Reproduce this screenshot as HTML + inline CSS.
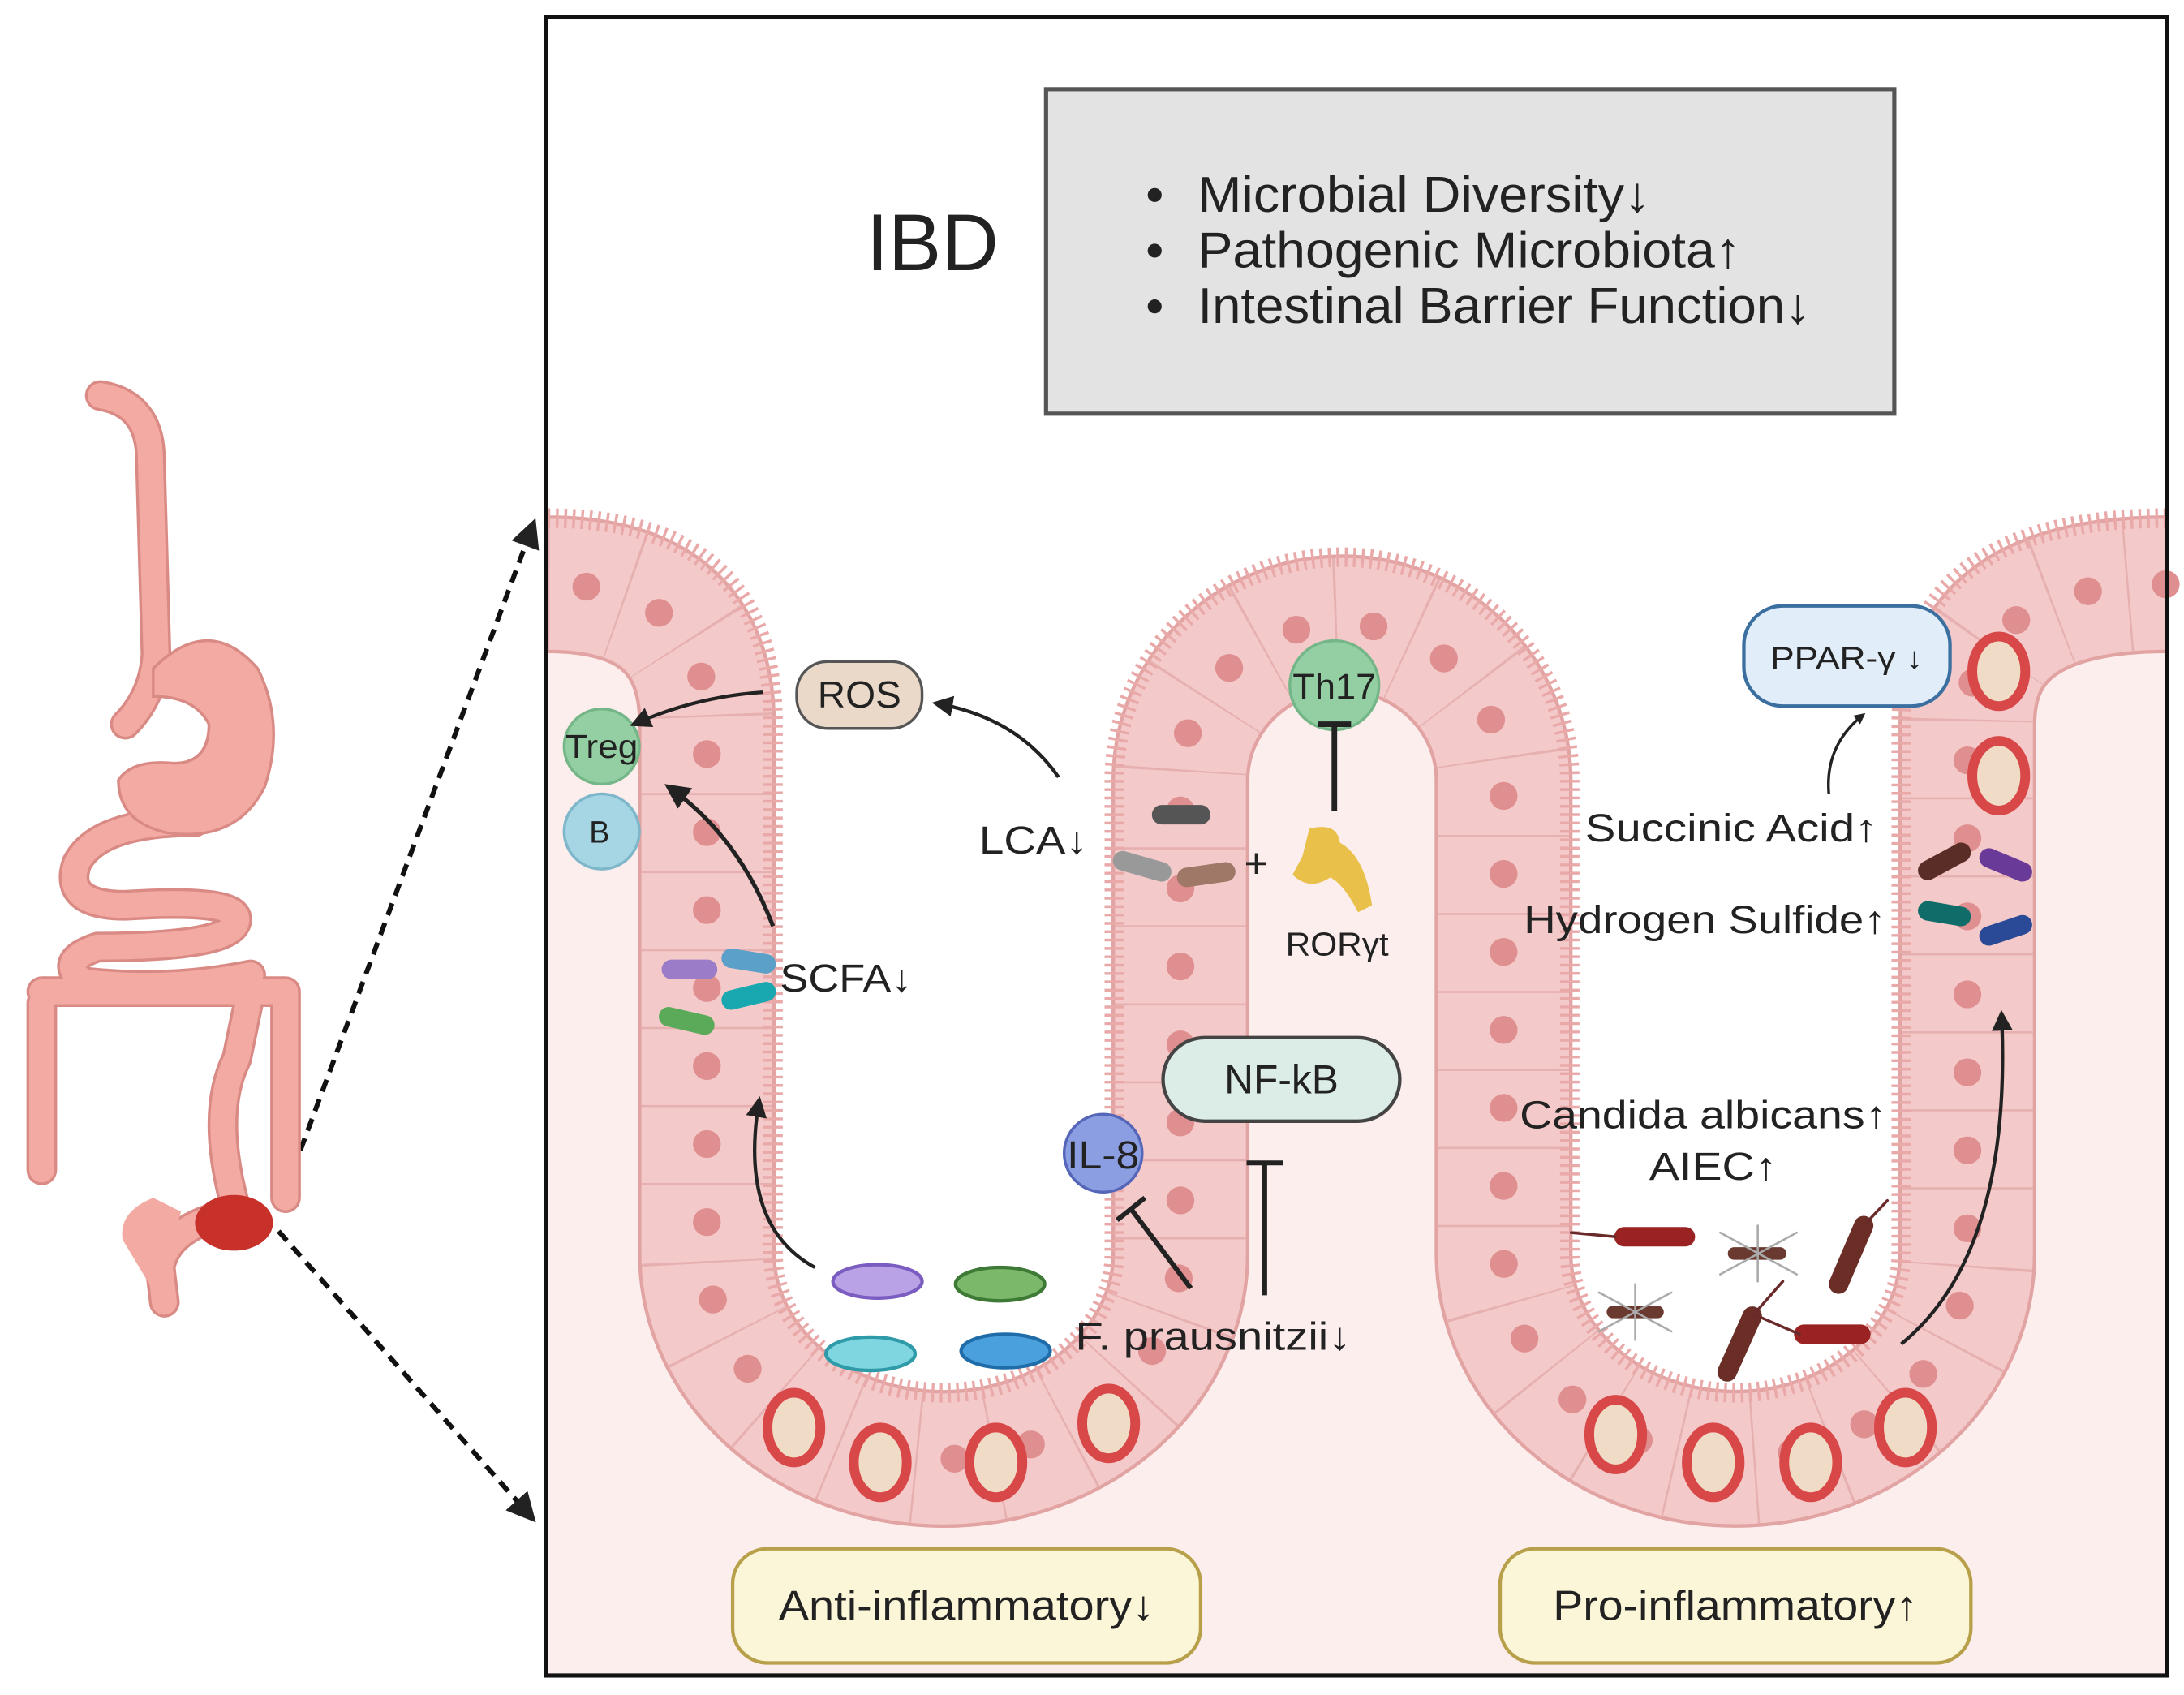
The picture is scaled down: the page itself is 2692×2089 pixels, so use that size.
<!DOCTYPE html>
<html><head><meta charset="utf-8"><style>
html,body{margin:0;padding:0;background:#fff}
svg{display:block}
text{font-family:"Liberation Sans",sans-serif;fill:#222}
</style></head><body>
<svg width="2692" height="2089" viewBox="0 0 1568 1217" preserveAspectRatio="none" xmlns="http://www.w3.org/2000/svg">
<defs>
<marker id="ah" viewBox="0 0 10 10" refX="8" refY="5" markerWidth="6" markerHeight="6" orient="auto"><path d="M0,0 L10,5 L0,10 Z" fill="#222"/></marker>
<marker id="ah2" viewBox="0 0 10 10" refX="8" refY="5" markerWidth="4" markerHeight="4" orient="auto"><path d="M0,0 L10,5 L0,10 Z" fill="#222"/></marker>
</defs>
<rect width="1568" height="1217" fill="#fff"/>
<rect x="393" y="365" width="1162" height="837" fill="#fdeeee"/>
<path d="M393 372 Q555 372 555 520 L555 900 A122.5 100 0 0 0 800 900 L800 560 A163.5 160 0 0 1 1127 560 L1127 900 A119 100 0 0 0 1365 900 L1365 520 Q1365 372 1556 372 L1556 12 L393 12 Z" fill="#fff"/>
<g fill="none">
<path d="M393 419.5 Q507.5 419.5 507.5 520 L507.5 900 A170 147.5 0 0 0 847.5 900 L847.5 560 A116 112.5 0 0 1 1079.5 560 L1079.5 900 A166.5 147.5 0 0 0 1412.5 900 L1412.5 520 Q1412.5 419.5 1556 419.5" stroke="#e2a3a3" stroke-width="99"/>
<path d="M393 419.5 Q507.5 419.5 507.5 520 L507.5 900 A170 147.5 0 0 0 847.5 900 L847.5 560 A116 112.5 0 0 1 1079.5 560 L1079.5 900 A166.5 147.5 0 0 0 1412.5 900 L1412.5 520 Q1412.5 419.5 1556 419.5" stroke="#f4c9c9" stroke-width="94"/>
<path d="M393 419.5 Q507.5 419.5 507.5 520 L507.5 900 A170 147.5 0 0 0 847.5 900 L847.5 560 A116 112.5 0 0 1 1079.5 560 L1079.5 900 A166.5 147.5 0 0 0 1412.5 900 L1412.5 520 Q1412.5 419.5 1556 419.5" stroke="#e6b0b0" stroke-width="94" stroke-dasharray="1.5 54.5"/>
<path d="M393 419.5 Q507.5 419.5 507.5 520 L507.5 900 A170 147.5 0 0 0 847.5 900 L847.5 560 A116 112.5 0 0 1 1079.5 560 L1079.5 900 A166.5 147.5 0 0 0 1412.5 900 L1412.5 520 Q1412.5 419.5 1556 419.5" stroke="#df8f8f" stroke-width="20" stroke-linecap="round" stroke-dasharray="0 56" stroke-dashoffset="-28"/>
<path d="M393 372 Q555 372 555 520 L555 900 A122.5 100 0 0 0 800 900 L800 560 A163.5 160 0 0 1 1127 560 L1127 900 A119 100 0 0 0 1365 900 L1365 520 Q1365 372 1556 372" stroke="#eaa9a9" stroke-width="14" stroke-dasharray="2 4"/>
</g>
<g fill="#f0dcc6" stroke="#d84848" stroke-width="7">
<ellipse cx="570" cy="1025" rx="19" ry="25"/><ellipse cx="632" cy="1050" rx="19" ry="25"/><ellipse cx="715" cy="1050" rx="19" ry="25"/><ellipse cx="796" cy="1022" rx="19" ry="25"/>
<ellipse cx="1160" cy="1030" rx="19" ry="25"/><ellipse cx="1230" cy="1050" rx="19" ry="25"/><ellipse cx="1300" cy="1050" rx="19" ry="25"/><ellipse cx="1368" cy="1025" rx="19" ry="25"/>
<ellipse cx="1435" cy="482" rx="19" ry="25"/><ellipse cx="1435" cy="557" rx="19" ry="25"/>
</g>
<rect x="392" y="12" width="1164" height="1191" fill="none" stroke="#111" stroke-width="3"/>
<rect x="751" y="64" width="609" height="233" fill="#e3e3e3" stroke="#555" stroke-width="3"/>
<text x="622" y="194" font-size="58" textLength="95" lengthAdjust="spacingAndGlyphs">IBD</text>
<g font-size="36"><circle cx="829" cy="140" r="5" fill="#222"/><circle cx="829" cy="180" r="5" fill="#222"/><circle cx="829" cy="220" r="5" fill="#222"/>
<text x="860" y="152" textLength="325" lengthAdjust="spacingAndGlyphs">Microbial Diversity↓</text>
<text x="860" y="192" textLength="390" lengthAdjust="spacingAndGlyphs">Pathogenic Microbiota↑</text>
<text x="860" y="232" textLength="440" lengthAdjust="spacingAndGlyphs">Intestinal Barrier Function↓</text></g>
<rect x="572" y="475" width="90" height="48" rx="22" fill="#ead8c8" stroke="#555" stroke-width="2"/>
<text x="617" y="508" font-size="27" text-anchor="middle" textLength="60" lengthAdjust="spacingAndGlyphs">ROS</text>
<circle cx="432" cy="597" r="27" fill="#a6d6e4" stroke="#7fb7ca" stroke-width="2"/>
<text x="423" y="605" font-size="22">B</text>
<circle cx="432" cy="536" r="27" fill="#93cfa2" stroke="#74b687" stroke-width="2"/>
<text x="432" y="544" font-size="24" text-anchor="middle" textLength="52" lengthAdjust="spacingAndGlyphs">Treg</text>
<path d="M548 497 Q500 500 455 520" fill="none" stroke="#222" stroke-width="2.5" marker-end="url(#ah)"/>
<path d="M760 558 Q730 515 672 505" fill="none" stroke="#222" stroke-width="2.5" marker-end="url(#ah)"/>
<path d="M555 665 Q530 600 480 565" fill="none" stroke="#222" stroke-width="3" marker-end="url(#ah)"/>
<path d="M585 910 Q530 880 545 790" fill="none" stroke="#222" stroke-width="2.5" marker-end="url(#ah)"/>
<circle cx="958" cy="492" r="32" fill="#93cfa2" stroke="#74b687" stroke-width="2"/>
<text x="958" y="502" font-size="26" text-anchor="middle" textLength="60" lengthAdjust="spacingAndGlyphs">Th17</text>
<path d="M958 582 L958 520 M946 520 L970 520" stroke="#222" stroke-width="4"/>
<path d="M940 595 Q960 590 962 605 Q980 615 985 650 L975 655 Q965 635 955 630 Q940 640 928 628 L935 615 Z" fill="#e8c04a"/>
<text x="960" y="686" font-size="24" text-anchor="middle" textLength="74" lengthAdjust="spacingAndGlyphs">RORγt</text>
<text x="902" y="630" font-size="30" text-anchor="middle">+</text>
<text x="703" y="613" font-size="28" textLength="78" lengthAdjust="spacingAndGlyphs">LCA↓</text>
<g stroke-linecap="round" stroke-width="14"><line x1="834" y1="585" x2="862" y2="585" stroke="#555"/><line x1="806" y1="618" x2="834" y2="626" stroke="#999"/><line x1="852" y1="630" x2="880" y2="626" stroke="#a07868"/></g>
<text x="560" y="712" font-size="28" textLength="95" lengthAdjust="spacingAndGlyphs">SCFA↓</text>
<g stroke-linecap="round" stroke-width="14"><line x1="482" y1="696" x2="508" y2="696" stroke="#9a7cc8"/><line x1="525" y1="688" x2="550" y2="692" stroke="#5aa0c8"/><line x1="525" y1="718" x2="550" y2="712" stroke="#1aa8b0"/><line x1="480" y1="730" x2="506" y2="736" stroke="#5aaa5a"/></g>
<g stroke-width="2.5"><ellipse cx="630" cy="920" rx="32" ry="12" fill="#b9a3e6" stroke="#7b5cc0"/><ellipse cx="718" cy="922" rx="32" ry="12" fill="#7cb86a" stroke="#3d7a36"/><ellipse cx="625" cy="972" rx="32" ry="12" fill="#7fd6e0" stroke="#2f9aa8"/><ellipse cx="722" cy="970" rx="32" ry="12" fill="#4aa0dc" stroke="#1f6ca8"/></g>
<rect x="835" y="745" width="170" height="60" rx="30" fill="#dcece6" stroke="#444" stroke-width="2.5"/>
<text x="920" y="785" font-size="29" text-anchor="middle" textLength="82" lengthAdjust="spacingAndGlyphs">NF-kB</text>
<circle cx="792" cy="828" r="28" fill="#8b9ee2" stroke="#5566b8" stroke-width="2"/>
<text x="792" y="839" font-size="28" text-anchor="middle" textLength="52" lengthAdjust="spacingAndGlyphs">IL-8</text>
<path d="M855 925 L812 868 M802 876 L822 860" stroke="#222" stroke-width="3.5"/>
<path d="M908 930 L908 835 M895 835 L921 835" stroke="#222" stroke-width="3.5"/>
<text x="772" y="969" font-size="28" textLength="198" lengthAdjust="spacingAndGlyphs">F. prausnitzii↓</text>
<rect x="1252" y="435" width="148" height="72" rx="28" fill="#e1eefa" stroke="#3a6fa0" stroke-width="2.5"/>
<text x="1326" y="480" font-size="22" text-anchor="middle" textLength="110" lengthAdjust="spacingAndGlyphs">PPAR-γ ↓</text>
<path d="M1313 570 Q1310 535 1338 513" fill="none" stroke="#222" stroke-width="2" marker-end="url(#ah2)"/>
<text x="1138" y="604" font-size="28" textLength="210" lengthAdjust="spacingAndGlyphs">Succinic Acid↑</text>
<text x="1094" y="670" font-size="28" textLength="260" lengthAdjust="spacingAndGlyphs">Hydrogen Sulfide↑</text>
<g stroke-linecap="round" stroke-width="14"><line x1="1384" y1="625" x2="1408" y2="612" stroke="#5a2e26"/><line x1="1428" y1="616" x2="1452" y2="626" stroke="#6a3a98"/><line x1="1384" y1="654" x2="1408" y2="658" stroke="#0f6c68"/><line x1="1428" y1="672" x2="1452" y2="664" stroke="#2a4a98"/></g>
<text x="1091" y="810" font-size="28" textLength="264" lengthAdjust="spacingAndGlyphs">Candida albicans↑</text>
<text x="1184" y="847" font-size="28" textLength="92" lengthAdjust="spacingAndGlyphs">AIEC↑</text>
<g stroke-linecap="round"><line x1="1166" y1="888" x2="1210" y2="888" stroke="#9a2222" stroke-width="14"/><line x1="1128" y1="885" x2="1160" y2="888" stroke="#6a2a2a" stroke-width="2"/>
<line x1="1245" y1="900" x2="1278" y2="900" stroke="#6a3a30" stroke-width="9"/><path d="M1235 885 L1290 915 M1235 915 L1290 885 M1262 880 L1262 920" stroke="#aaa" stroke-width="1.5"/>
<line x1="1320" y1="922" x2="1338" y2="880" stroke="#6a2e26" stroke-width="14"/><line x1="1338" y1="880" x2="1355" y2="862" stroke="#6a2a2a" stroke-width="2"/>
<line x1="1158" y1="942" x2="1190" y2="942" stroke="#6a3a30" stroke-width="9"/><path d="M1148 928 L1200 956 M1148 956 L1200 928 M1174 922 L1174 962" stroke="#aaa" stroke-width="1.5"/>
<line x1="1240" y1="985" x2="1258" y2="945" stroke="#6a2e26" stroke-width="14"/><line x1="1258" y1="945" x2="1280" y2="920" stroke="#6a2a2a" stroke-width="2"/>
<line x1="1295" y1="958" x2="1336" y2="958" stroke="#9a2222" stroke-width="14"/><line x1="1262" y1="945" x2="1292" y2="958" stroke="#6a2a2a" stroke-width="2"/></g>
<path d="M1365 965 Q1445 900 1437 728" fill="none" stroke="#222" stroke-width="2.5" marker-end="url(#ah)"/>
<rect x="526" y="1112" width="336" height="82" rx="25" fill="#fbf6d8" stroke="#b8a04a" stroke-width="2.5"/>
<text x="694" y="1163" font-size="30" text-anchor="middle" textLength="270" lengthAdjust="spacingAndGlyphs">Anti-inflammatory↓</text>
<rect x="1077" y="1112" width="338" height="82" rx="25" fill="#fbf6d8" stroke="#b8a04a" stroke-width="2.5"/>
<text x="1246" y="1163" font-size="30" text-anchor="middle" textLength="262" lengthAdjust="spacingAndGlyphs">Pro-inflammatory↑</text>
<line x1="200" y1="868" x2="383" y2="376" stroke="#111" stroke-width="3.5" stroke-dasharray="9 6" marker-end="url(#ah)"/>
<line x1="200" y1="884" x2="382" y2="1090" stroke="#111" stroke-width="3.5" stroke-dasharray="9 6" marker-end="url(#ah)"/>
<g fill="none" stroke-linecap="round" stroke-linejoin="round">
<g stroke="#d98a84" stroke-width="22">
<path d="M72 284 Q108 290 108 330 L112 470 Q110 500 90 520"/>
<path d="M140 590 Q70 590 55 620 Q45 650 90 650 Q170 645 170 660 Q170 680 70 680 Q40 690 60 705 Q120 712 180 700"/>
<path d="M30 720 L30 840 M30 712 L205 712 L205 860 M180 712 L170 760 Q150 800 170 870"/>
<path d="M170 870 Q120 880 115 910 L118 935"/>
</g>
<g stroke="#f2aaa2" stroke-width="18">
<path d="M72 284 Q108 290 108 330 L112 470 Q110 500 90 520"/>
<path d="M140 590 Q70 590 55 620 Q45 650 90 650 Q170 645 170 660 Q170 680 70 680 Q40 690 60 705 Q120 712 180 700"/>
<path d="M30 720 L30 840 M30 712 L205 712 L205 860 M180 712 L170 760 Q150 800 170 870"/>
<path d="M170 870 Q120 880 115 910 L118 935"/>
</g>
</g>
<path d="M110 480 Q150 440 185 480 Q205 520 190 565 Q170 605 120 598 Q85 590 85 560 Q95 545 125 548 Q150 548 150 520 Q140 500 110 500 Z" fill="#f2aaa2" stroke="#d98a84" stroke-width="2"/>
<path d="M88 890 Q85 870 110 860 L130 870 L112 930 Z" fill="#f2aaa2"/>
<ellipse cx="168" cy="878" rx="28" ry="20" fill="#c8302a"/>
</svg>
</body></html>
